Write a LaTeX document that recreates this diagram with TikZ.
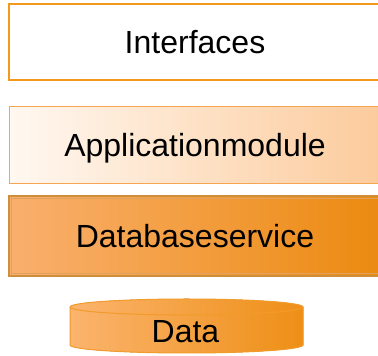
\documentclass[tikz,border=0pt]{standalone}
\usepackage{fontspec}
\setmainfont{Liberation Sans}
\usepackage{tikz}

\definecolor{ifaceline}{HTML}{F39A1E}
\definecolor{appline}{HTML}{F6A552}
\definecolor{appleft}{HTML}{FFF8F1}
\definecolor{appright}{HTML}{FCCB9C}
\definecolor{dbline}{HTML}{CF8E3C}
\definecolor{dbinner}{HTML}{E0A25A}
\definecolor{dbleft}{HTML}{F9B06E}
\definecolor{dbright}{HTML}{EC8A10}
\definecolor{dataline}{HTML}{F29B2A}
\definecolor{dataleft}{HTML}{FBB46E}
\definecolor{dataright}{HTML}{EE8F16}

\tikzset{
  layertext/.style={font=\fontsize{32}{38}\selectfont, text height=23pt, text depth=0pt},
  layer/.style={layertext, rectangle, minimum width=372pt, line width=1.5pt}
}

\begin{document}
\begin{tikzpicture}[x=1pt,y=1pt]
\useasboundingbox (0,0) rectangle (378,356);
\clip (0,0) rectangle (378,356);

%Layers
\node (iface) [layer, draw=ifaceline, fill=white, minimum height=76pt] at (195,314) {Interfaces};
\node (appmod) [layer, draw=appline, line width=1pt, left color=appleft, right color=appright,
  minimum height=77pt] at (195,210.5) {Applicationmodule};
\node (dbserv) [layer, draw=dbline, left color=dbleft, right color=dbright,
  minimum height=80pt] at (195,120) {Databaseservice};
\draw [dbinner, line width=0.8pt] ([shift={(3,3)}]dbserv.south west) rectangle ([shift={(-3,-3)}]dbserv.north east);

%Data store
\filldraw [draw=dataline, line width=1pt, left color=dataleft, right color=dataright]
  (70,49) -- (70,11) arc[start angle=180, end angle=360, x radius=116.5, y radius=8]
  -- (303,49) arc[start angle=0, end angle=180, x radius=116.5, y radius=8] -- cycle;
\draw [dataline, line width=1pt] (70,49) arc[start angle=180, end angle=360, x radius=116.5, y radius=8];
\node (data) [layertext] at (185.5,24.5) {Data};

\end{tikzpicture}
\end{document}
